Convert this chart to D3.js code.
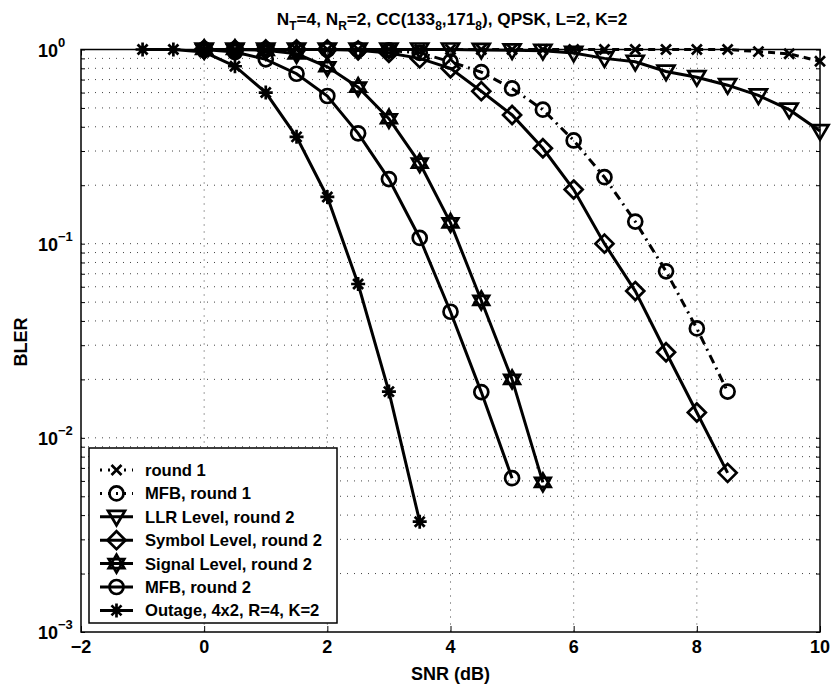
<!DOCTYPE html>
<html>
<head>
<style>
  body { margin: 0; background: #fff; }
  text { font-family: "Liberation Sans", Arial, sans-serif; font-weight: bold; fill: #000; }
  .grid line { stroke: #444; stroke-width: 1; stroke-dasharray: 1,6; }
  .curve { fill: none; stroke: #000; stroke-width: 3; }
  .mark { fill: none; stroke: #000; stroke-width: 2.7; }
</style>
</head>
<body>
<svg width="833" height="685"></svg>
<script src="https://d3js.org/d3.v7.min.js"></script>
<script>
// data
const snrRound1 = [0,0.5,1,1.5,2,2.5,3,3.5,4,4.5,5,5.5,6,6.5,7,7.5,8,8.5,9,9.5,10];
const blerRound1 = [1,1,1,1,1,1,1,1,1,1,1,1,1,1,1,1,1,1,0.975,0.95,0.87];

const snrMfb1 = [0,0.5,1,1.5,2,2.5,3,3.5,4,4.5,5,5.5,6,6.5,7,7.5,8,8.5];
const blerMfb1 = [1,1,1,1,1,1,0.99,0.96,0.865,0.765,0.63,0.49,0.34,0.22,0.13,0.072,0.0366,0.0173];

const snrLlr = [0,0.5,1,1.5,2,2.5,3,3.5,4,4.5,5,5.5,6,6.5,7,7.5,8,8.5,9,9.5,10];
const blerLlr = [1,1,1,1,1,1,1,1,1,0.995,0.99,0.985,0.96,0.9,0.865,0.77,0.72,0.655,0.58,0.49,0.38];

const snrSymbol = [0,0.5,1,1.5,2,2.5,3,3.5,4,4.5,5,5.5,6,6.5,7,7.5,8,8.5];
const blerSymbol = [1,1,1,1,1,0.99,0.96,0.9,0.8,0.61,0.46,0.31,0.19,0.1,0.057,0.0276,0.0135,0.0066];

const snrSignal = [0,0.5,1,1.5,2,2.5,3,3.5,4,4.5,5,5.5];
const blerSignal = [1,1,0.99,0.95,0.815,0.64,0.44,0.26,0.128,0.051,0.02,0.0059];

const snrMfb2 = [0,0.5,1,1.5,2,2.5,3,3.5,4,4.5,5];
const blerMfb2 = [1,0.97,0.89,0.75,0.576,0.37,0.215,0.107,0.0446,0.0172,0.0062];

const snrOutage = [-1,-0.5,0,0.5,1,1.5,2,2.5,3,3.5];
const blerOutage = [1,1,0.97,0.82,0.6,0.355,0.174,0.062,0.0173,0.0037];

const seriesNames = ["round 1","MFB, round 1","LLR Level, round 2","Symbol Level, round 2","Signal Level, round 2","MFB, round 2","Outage, 4x2, R=4, K=2"];
const xTicks = [-2,0,2,4,6,8,10];
const yTicks = [1e-3,1e-2,1e-1,1];
const yTickExp = ["\u22123","\u22122","\u22121","0"];

const svg = d3.select("svg");
const mLeft = 81, mRight = 820, mTop = 49.5, mBottom = 632;
const x = d3.scaleLinear().domain([-2,10]).range([mLeft,mRight]);
const y = d3.scaleLog().domain([1e-3,1]).range([mBottom,mTop]);

// marker shapes
function markerPath(kind) {
  if (kind === "x") return "M-5,-5L5,5M-5,5L5,-5";
  if (kind === "o") return "M7,0A7,7 0 1,1 -7,0A7,7 0 1,1 7,0Z";
  if (kind === "v") return "M-8.5,-6L8.5,-6L0,8.5Z";
  if (kind === "d") return "M0,-9L9,0L0,9L-9,0Z";
  if (kind === "h") return "M0,-9L7.8,4.5L-7.8,4.5ZM0,9L7.8,-4.5L-7.8,-4.5Z";
  if (kind === "*") return "M0,-7L0,7M-7,0L7,0M-5,-5L5,5M-5,5L5,-5";
}

const series = [
  {name: seriesNames[0], snr: snrRound1, bler: blerRound1, marker: "x", dash: "7,5"},
  {name: seriesNames[1], snr: snrMfb1, bler: blerMfb1, marker: "o", dash: "9,5,2,5"},
  {name: seriesNames[2], snr: snrLlr, bler: blerLlr, marker: "v", dash: null},
  {name: seriesNames[3], snr: snrSymbol, bler: blerSymbol, marker: "d", dash: null},
  {name: seriesNames[4], snr: snrSignal, bler: blerSignal, marker: "h", dash: null},
  {name: seriesNames[5], snr: snrMfb2, bler: blerMfb2, marker: "o", dash: null},
  {name: seriesNames[6], snr: snrOutage, bler: blerOutage, marker: "*", dash: null}
];

// grid
const grid = svg.append("g").attr("class", "grid");
const minor = [];
for (let e = -3; e < 0; e++) for (let k = 1; k < 10; k++) minor.push(k * Math.pow(10, e));
grid.selectAll(".gy").data(minor.slice(1)).join("line")
  .attr("x1", mLeft).attr("x2", mRight)
  .attr("y1", d => y(d)).attr("y2", d => y(d));
grid.selectAll(".gx").data(xTicks.slice(1, -1)).join("line")
  .attr("x1", d => x(d)).attr("x2", d => x(d))
  .attr("y1", mTop).attr("y2", mBottom);

// axes (ticks inside)
const axisG = svg.append("g");
axisG.append("g").attr("transform", `translate(0,${mBottom})`)
  .call(d3.axisTop(x).tickValues(xTicks).tickSize(6).tickFormat(""));
axisG.append("g").attr("transform", `translate(0,${mTop})`)
  .call(d3.axisBottom(x).tickValues(xTicks).tickSize(6).tickFormat(""));
axisG.append("g").attr("transform", `translate(${mLeft},0)`)
  .call(d3.axisRight(y).tickValues(minor.concat([1])).tickSize(4).tickFormat(""));
axisG.append("g").attr("transform", `translate(${mRight},0)`)
  .call(d3.axisLeft(y).tickValues(minor.concat([1])).tickSize(4).tickFormat(""));
axisG.selectAll(".domain").remove();
axisG.selectAll("line").attr("stroke", "#000").attr("stroke-width", 1);
svg.append("rect").attr("x", mLeft).attr("y", mTop)
  .attr("width", mRight - mLeft).attr("height", mBottom - mTop)
  .attr("fill", "none").attr("stroke", "#000").attr("stroke-width", 1.5);

// tick labels
svg.selectAll(".xl").data(xTicks).join("text")
  .attr("x", d => x(d)).attr("y", mBottom + 21)
  .attr("text-anchor", "middle").attr("font-size", 18)
  .text(d => d < 0 ? "\u2212" + Math.abs(d) : d);
const yl = svg.selectAll(".yl").data(yTicks).join("text")
  .attr("x", 38).attr("y", d => y(d) + 7)
  .attr("font-size", 18);
yl.append("tspan").text("10");
yl.append("tspan").attr("dy", -10).attr("font-size", 13).text((d, i) => yTickExp[i]);

// axis titles
svg.append("text").attr("x", (mLeft + mRight) / 2).attr("y", 680)
  .attr("text-anchor", "middle").attr("font-size", 18).text("SNR (dB)");
svg.append("text").attr("transform", "translate(27,342) rotate(-90)")
  .attr("text-anchor", "middle").attr("font-size", 18).text("BLER");

// title
const title = svg.append("text").attr("x", 452).attr("y", 25)
  .attr("text-anchor", "middle").attr("font-size", 17.2);
[["N",0],["T",1],["=4, N",0],["R",1],["=2, CC(133",0],["8",1],[",171",0],["8",1],["), QPSK, L=2, K=2",0]]
  .forEach(([t, sub], i, arr) => {
    const prev = i > 0 ? arr[i - 1][1] : 0;
    title.append("tspan")
      .attr("dy", sub && !prev ? 5 : (!sub && prev ? -5 : 0))
      .attr("font-size", sub ? 12 : 17.2).text(t);
  });

// curves
const line = d3.line().x(d => x(d[0])).y(d => y(d[1]));
series.forEach(s => {
  const pts = s.snr.map((v, i) => [v, s.bler[i]]);
  svg.append("path").attr("class", "curve").datum(pts)
    .attr("d", line).attr("stroke-dasharray", s.dash);
  svg.append("g").selectAll("path").data(pts).join("path")
    .attr("class", "mark")
    .attr("stroke-width", s.marker === "*" ? 3.5 : 2.7)
    .attr("transform", d => `translate(${x(d[0])},${y(d[1])})`)
    .attr("d", markerPath(s.marker));
});

// legend
const lg = svg.append("g");
lg.append("rect").attr("x", 89).attr("y", 448).attr("width", 248).attr("height", 175)
  .attr("fill", "#fff").attr("stroke", "#000").attr("stroke-width", 1.5);
series.forEach((s, i) => {
  const ly = 470 + i * 23.4;
  lg.append("line").attr("class", "curve").attr("x1", 100).attr("x2", 133)
    .attr("y1", ly).attr("y2", ly).attr("stroke-dasharray", s.dash ? "2,6" : null);
  lg.append("path").attr("class", "mark")
    .attr("stroke-width", s.marker === "*" ? 3.5 : 2.7)
    .attr("transform", `translate(116.5,${ly})`).attr("d", markerPath(s.marker));
  lg.append("text").attr("x", 145).attr("y", ly + 6).attr("font-size", 16.6).text(s.name);
});
</script>
</body>
</html>
